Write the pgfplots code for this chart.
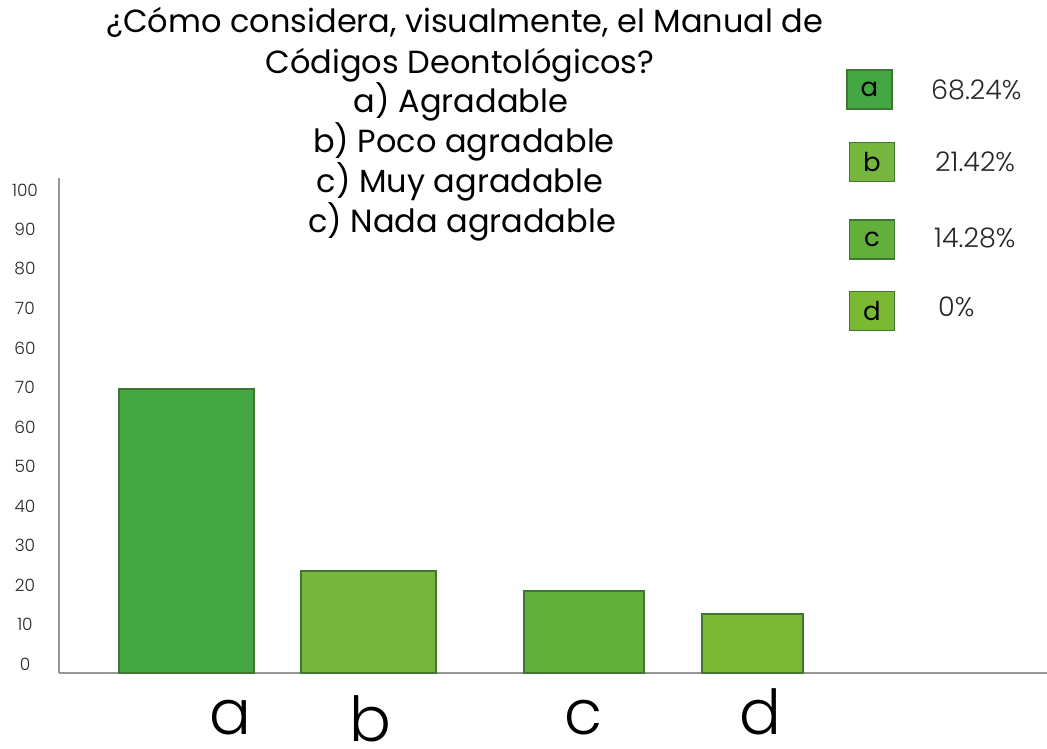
\documentclass[border=0pt]{standalone}
\usepackage{fontspec}
\setmainfont{Poppins}
\newfontfamily\lightfont{Poppins}[UprightFont=* Light]
\usepackage{pgfplots}
\pgfplotsset{compat=1.18}
\definecolor{gA}{RGB}{68,167,68}
\definecolor{gB}{RGB}{118,182,60}
\definecolor{gC}{RGB}{99,175,59}
\definecolor{gD}{RGB}{123,185,53}
\definecolor{edge}{RGB}{62,118,50}
\definecolor{axgray}{RGB}{150,150,150}
\begin{document}
\begin{tikzpicture}[x=1pt,y=1pt]
\useasboundingbox (0,0) rectangle (1047,748);
\begin{axis}[
  at={(59pt,75pt)}, anchor=south west,
  scale only axis, width=988pt, height=495pt,
  xmin=59, xmax=1047, ymin=0, ymax=125.3,
  axis x line=bottom, axis y line=left,
  axis line style={-, axgray, line width=2pt},
  major tick length=0pt,
  xtick={230,370,583,760},
  xticklabels={a,\raisebox{-7pt}{b},c,d},
  xticklabel style={anchor=base, yshift=-61pt, font=\lightfont\fontsize{62}{62}\selectfont},
  ytick={2.3,12.3,22.3,32.3,42.3,52.3,62.3,72.3,82.3,92.3,102.3,112.3,122.3},
  yticklabels={0,10,20,30,40,50,60,70,60,70,80,90,100},
  yticklabel style={anchor=center, xshift=-34pt, font=\lightfont\fontsize{17}{17}\selectfont, text=black!85},
  /pgf/number format/assume math mode=true,
  clip=false,
]
\addplot[ybar, bar shift=0pt, bar width=135, fill=gA, draw=edge, line width=1.5pt] coordinates {(186.5,71.9)};
\addplot[ybar, bar shift=0pt, bar width=135, fill=gB, draw=edge, line width=1.5pt] coordinates {(368.5,25.8)};
\addplot[ybar, bar shift=0pt, bar width=120, fill=gC, draw=edge, line width=1.5pt] coordinates {(584,20.8)};
\addplot[ybar, bar shift=0pt, bar width=101, fill=gD, draw=edge, line width=1.5pt] coordinates {(752.5,14.9)};
\end{axis}
% title
\begin{scope}[every node/.style={anchor=base, inner sep=0pt, font=\fontsize{32}{32}\selectfont}]
\node at (465,748-33) {¿Cómo considera, visualmente, el Manual de};
\node at (460,748-74) {Códigos Deontológicos?};
\node at (461,748-113) {a) Agradable};
\node at (464,748-153) {b) Poco agradable};
\node at (460,748-193) {c) Muy agradable};
\node at (462,748-233) {c) Nada agradable};
\end{scope}
% legend
\begin{scope}[box/.style={draw=edge, line width=1.5pt, minimum width=45pt, minimum height=39pt, inner sep=0pt, font=\fontsize{26}{26}\selectfont},
  pct/.style={anchor=west, inner sep=0pt, font=\lightfont\fontsize{27}{27}\selectfont, text=black!85}]
\node[box, fill=gA] at (869.5,748-89.5) {a};
\node[box, fill=gB] at (872,748-162) {b};
\node[box, fill=gC] at (872,748-239.5) {c};
\node[box, fill=gD] at (872,748-311) {d};
\node[pct] at (931,748-90) {68.24\%};
\node[pct] at (935,748-162) {21.42\%};
\node[pct] at (934,748-238) {14.28\%};
\node[pct] at (938,748-307) {0\%};
\end{scope}
\end{tikzpicture}
\end{document}
